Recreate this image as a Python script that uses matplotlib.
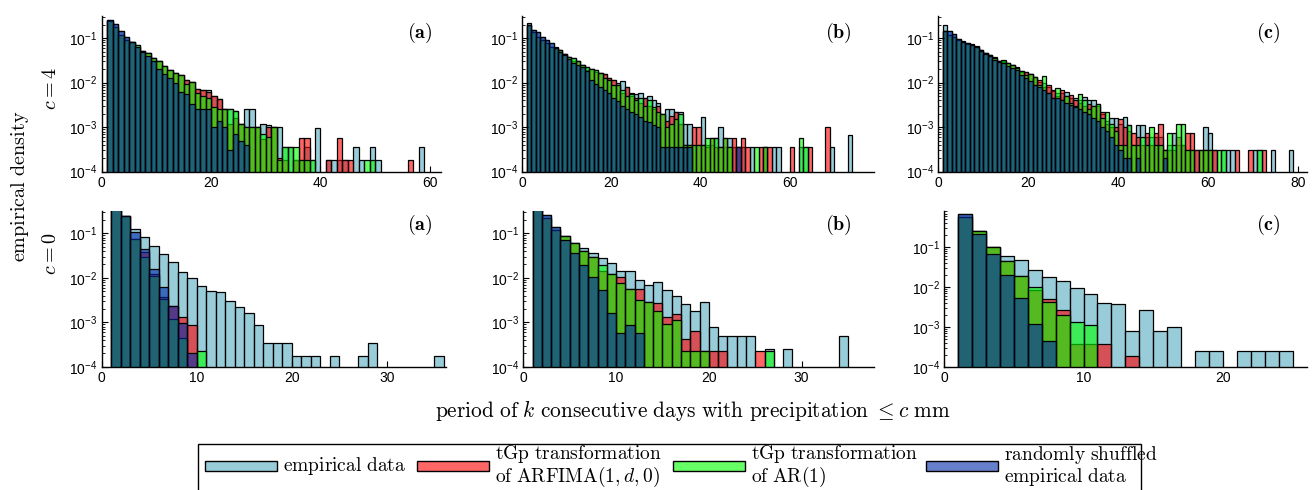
import numpy as np
import matplotlib
matplotlib.use("Agg")
import matplotlib.pyplot as plt
from matplotlib.patches import Rectangle
from matplotlib.ticker import LogLocator, NullFormatter, FixedLocator

plt.rcParams['font.family'] = 'sans-serif'
plt.rcParams['font.sans-serif'] = ['Liberation Sans', 'DejaVu Sans']
plt.rcParams['mathtext.fontset'] = 'cm'

# empirical density per run length k = 1, 2, ... (0 = no run of that length)
# c = 4 mm, station (a)
emp_c4a = [.25, .204, .148, .105, .083, .070, .051, .046, .035, .030,
           .024, .0194, .0169, .0148, .0115, .0104, .0074, .0068, .0070, .0050,
           .0042, .0026, .0025, .0023, .0012, .0025, .0025, .0010, .0012, .0011,
           .0010, .0010, .00036, .00036, .00018, .00018, .00036, .00018, .00098, 0,
           .00018, .00018, .00018, .00018, 0, .00036, .00018, 0, .00036, .00018,
           0, 0, 0, 0, 0, 0, 0, .00036]
arf_c4a = [.24, .178, .12, .091, .083, .064, .051, .046, .035, .030,
           .024, .0194, .0169, .0148, .0115, .0104, .0074, .0068, .0062, .0050,
           .0042, .0026, .0012, .0016, .0012, .0010, .0010, .0010, .00055, .0010,
           .0010, .0002, .00018, 0, .00018, .00057, .00057, 0, 0, 0,
           .00018, 0, .00057, .00018, .00018, 0, 0, 0, 0, 0,
           0, 0, 0, 0, 0, .00018]
ar1_c4a = [.24, .178, .12, .091, .083, .070, .051, .046, .035, .030,
           .024, .0194, .0169, .0148, .0093, .0104, .0060, .0050, .0045, .0028,
           .0026, .0026, .0025, .0023, .0012, .0010, .0010, .0010, .0007, .0006,
           .0010, .00018, .00036, .00036, .00036, .00018, .00018, .00018, 0, 0,
           0, 0, 0, 0, 0, 0, 0, .00018, .00018]
shuf_c4a = [.25, .204, .148, .105, .081, .064, .049, .040, .030, .020,
            .016, .0126, .0100, .0063, .0056, .0033, .0026, .0026, .0026, .0010,
            .0014, .0010, .0003, .0007, .0005, .0004]

# c = 4 mm, station (b)
emp_c4b = [.225, .155, .135, .109, .092, .078, .063, .053, .044, .037,
           .035, .030, .025, .022, .020, .019, .0163, .016, .0125, .0112,
           .0100, .0107, .0080, .0060, .0055, .0060, .0045, .0050, .0040, .0035,
           .0020, .0025, .0025, .0022, .0022, .0012, .0012, .0004, .0004, .0017,
           .0004, .0004, .00058, .0010, .00035, .00058, .00035, .00035, .00035, 0,
           .00035, 0, 0, .00035, 0, .00035, .00035, 0, 0, 0,
           0, .00035, .00035, 0, 0, 0, 0, 0, .00035, 0,
           0, 0, .00067]
arf_c4b = [.20, .135, .109, .092, .078, .063, .060, .053, .044, .037,
           .030, .030, .025, .019, .020, .017, .0163, .016, .0125, .0112,
           .0090, .0060, .0080, .0050, .0045, .0035, .0045, .0030, .0025, .0030,
           .0020, .0014, .0018, .0022, .0012, .0004, .0004, .0010, .0010, .0004,
           .00035, .00058, .00035, .00035, .00058, .00035, .00058, .00035, .00058, .00035,
           0, 0, .00035, .00035, .00035, 0, 0, 0, 0, .00035,
           0, 0, 0, .00035, 0, 0, 0, .0010]
ar1_c4b = [.20, .135, .109, .092, .078, .063, .060, .053, .044, .037,
           .035, .030, .025, .022, .020, .019, .0163, .0125, .0112, .0090,
           .0090, .0070, .0050, .0055, .0040, .0045, .0030, .0040, .0028, .0022,
           .0020, .0010, .0012, .0015, .0020, .0004, .0004, .0004, .0004, .0004,
           .00058, .00058, .00058, .00035, .00058, .00035, 0, 0, 0, 0,
           0, .00035, 0, .00035, 0, 0, 0, 0, 0, 0,
           0, .00058, .00035]
shuf_c4b = [.20, .155, .135, .109, .092, .078, .060, .050, .041, .034,
            .028, .025, .022, .018, .0115, .0095, .0080, .0068, .0058, .0046,
            .0038, .0030, .0026, .0022, .0020, .0017, .0014, .0013, .0011, .0010,
            .00035, .00035, .00035, .00035, .00035, .00035, .00035, 0, 0, 0,
            0, 0, 0, 0, 0, 0, 0, .00035]

# c = 4 mm, station (c)
emp_c4c = [.20, .148, .125, .095, .085, .079, .073, .066, .055, .047,
           .042, .037, .031, .030, .027, .025, .021, .0186, .0177, .0158,
           .0137, .0105, .0100, .0080, .0065, .0060, .0060, .0063, .0045, .0046,
           .0040, .0048, .0041, .0041, .0033, .0020, .0014, .0016, .0016, .0012,
           .0017, .0011, .0004, .0011, .0011, .0006, .0006, .0006, .0006, .0003,
           .0004, .00075, .0004, .0004, .0003, .0003, .0003, 0, .0010, .00075,
           .0003, 0, .0003, .0003, .0003, 0, 0, 0, 0, .0003,
           .0003, 0, 0, .0003, 0, 0, 0, .0003]
arf_c4c = [.148, .12, .105, .090, .080, .075, .070, .064, .054, .046,
           .041, .035, .030, .029, .027, .025, .023, .0170, .0177, .0158,
           .0137, .0115, .0080, .0089, .0070, .0050, .0069, .0050, .0053, .0040,
           .0035, .0030, .0033, .0030, .0030, .0022, .0012, .0010, .0010, .0015,
           .0010, .0008, .00075, .0006, .0004, .00075, .0004, .00075, .0012, .0003,
           .0003, .0003, .0006, .0004, .00075, .00075, .0003, .0003, .0003, .0003,
           .0003, 0, 0, 0, 0, .0003, 0, 0, .0003, 0,
           0, .0003]
ar1_c4c = [.148, .12, .105, .090, .080, .075, .070, .064, .054, .046,
           .041, .035, .030, .032, .027, .025, .021, .0186, .0150, .0158,
           .0137, .0090, .0140, .0060, .0045, .0075, .0040, .0050, .0035, .0030,
           .0056, .0040, .0025, .0030, .0033, .0016, .0022, .0012, .0008, .0004,
           .0004, .0011, .0004, .0004, .0006, .0004, .0010, .0004, .0004, .0003,
           .00075, .0004, .0012, .0012, .0003, .0003, 0, .0003, .0003, .0003,
           0, .0003, .0003, 0, 0, 0, 0, 0, 0, 0,
           .0003]
shuf_c4c = [.148, .148, .125, .095, .082, .076, .070, .063, .052, .044,
            .039, .033, .029, .027, .024, .021, .019, .0150, .0130, .0110,
            .0090, .0080, .0070, .0060, .0045, .0045, .0040, .0035, .0032, .0028,
            .0025, .0022, .0020, .0016, .0014, .0010, .0008, .0006, .0004, .0003,
            .0002, .0002, 0, .0002, 0, 0, 0, 0, 0, .0002]

# c = 0 mm, station (a)
emp_c0a = [.55, .25, .124, .085, .053, .035, .0224, .0138, .010, .0065,
           .0051, .0049, .0030, .0022, .00158, .00087, .00034, .00034, .00034, .00017,
           .00017, .00017, 0, .00017, 0, 0, .00017, .00034, 0, 0,
           0, 0, 0, 0, .00017]
arf_c0a = [.55, .25, .074, .038, .0125, .0038, .0023, .00134, .00087]
ar1_c0a = [.55, .25, .074, .030, .011, .0033, .00117, .00044, 0, .00022]
shuf_c0a = [.55, .25, .105, .044, .0159, .0061, .0023, .00095, .0002]

# c = 0 mm, station (b)
emp_c0b = [.5, .26, .14, .089, .060, .046, .0355, .0275, .022, .0145,
           .0145, .0089, .0069, .0082, .0052, .0039, .0026, .0018, .0028, .00077,
           .00049, .00049, .00049, .00049, 0, .00025, 0, .00025, 0, 0,
           0, 0, 0, .00049]
arf_c0b = [.5, .22, .12, .089, .060, .041, .029, .0145, .0123, .0102,
           .0057, .0057, .0028, .0027, .00134, .00155, .00043, .00065, .00022, .00022,
           .00022, 0, 0, 0, .00022]
ar1_c0b = [.5, .22, .12, .089, .060, .041, .029, .019, .0123, .0078,
           .0057, .0032, .0028, .0018, .00091, .0011, .00022, .00022, .00022, 0,
           0, 0, 0, 0, 0, .00022]
shuf_c0b = [.5, .26, .14, .073, .037, .0194, .0106, .0052, .00165, .00058,
            .00087, .00058]

# c = 0 mm, station (c)
emp_c0c = [.68, .25, .10, .061, .048, .027, .0178, .0139, .0094, .0066,
           .0040, .0038, .00077, .0026, .00077, .0010, 0, .00025, .00025, 0,
           .00025, .00025, .00025, .00025]
arf_c0c = [.56, .25, .10, .046, .0185, .0083, .0050, .0027, .00036, .00036,
           .00038, 0, .00019]
ar1_c0c = [.56, .25, .10, .046, .0185, .010, .0041, .0020, .00131, .00112]
shuf_c0c = [.68, .21, .067, .0204, .0053, .0012, .00044]

# face colours (drawn at 60 % opacity) and legend labels
colours = [(85/255, 170/255, 192/255), (1.0, 0.0, 0.0),
           (0.0, 1.0, 0.0), (0.0, 43/255, 170/255)]
labels = [r'$\mathrm{empirical\ data}$',
          '$\\mathrm{tGp\\ transformation}$\n$\\mathrm{of\\ ARFIMA}(1,d,0)$',
          '$\\mathrm{tGp\\ transformation}$\n$\\mathrm{of\\ AR}(1)$',
          '$\\mathrm{randomly\\ shuffled}$\n$\\mathrm{empirical\\ data}$']
ALPHA = 0.6

W, H = 1313, 490
fig = plt.figure(figsize=(W / 100, H / 100), dpi=100)


def fx(x):
    return x / W


def fy(y):
    return 1 - y / H


# panel boxes in pixels: left, top, right, bottom; x limit, y top, x ticks,
# panel tag and where the tag sits
panels = [
    ((101.7, 15.7, 440.8, 171.7), 62, 0.32, [0, 20, 40, 60], '(a)', (420, 33),
     [emp_c4a, arf_c4a, ar1_c4a, shuf_c4a]),
    ((522.3, 15.7, 874.0, 171.7), 78.9, 0.32, [0, 20, 40, 60], '(b)', (838, 33),
     [emp_c4b, arf_c4b, ar1_c4b, shuf_c4b]),
    ((938.3, 15.7, 1306.7, 171.7), 82, 0.32, [0, 20, 40, 60, 80], '(c)', (1268, 33),
     [emp_c4c, arf_c4c, ar1_c4c, shuf_c4c]),
    ((101.7, 211.0, 445.6, 366.7), 36.2, 0.32, [0, 10, 20, 30], '(a)', (420, 225),
     [emp_c0a, arf_c0a, ar1_c0a, shuf_c0a]),
    ((523.3, 211.0, 874.0, 366.7), 37.8, 0.32, [0, 10, 20, 30], '(b)', (838, 225),
     [emp_c0b, arf_c0b, ar1_c0b, shuf_c0b]),
    ((944.0, 211.0, 1306.7, 366.7), 26.0, 0.81, [0, 10, 20], '(c)', (1268, 225),
     [emp_c0c, arf_c0c, ar1_c0c, shuf_c0c]),
]

for (l, t, r, b), xmax, ytop, xt, tag, (tx, ty), series in panels:
    ax = fig.add_axes([fx(l), fy(b), fx(r) - fx(l), fy(t) - fy(b)])
    ax.set_yscale('log')
    for vals, col in zip(series, colours):
        v = np.asarray(vals, dtype=float)
        k = np.arange(1, len(v) + 1)
        m = v > 0
        ax.bar(k[m], v[m], width=1, align='edge', bottom=1e-6,
               facecolor=(*col, ALPHA), edgecolor='black', linewidth=0.9)
    ax.set_xlim(0, xmax)
    ax.set_ylim(1e-4, ytop)
    ax.xaxis.set_major_locator(FixedLocator(xt))
    ax.set_xticklabels([str(v) for v in xt], fontsize=10)
    ax.set_yticks([1e-4, 1e-3, 1e-2, 1e-1])
    ax.set_yticklabels([r'$10^{-4}$', r'$10^{-3}$', r'$10^{-2}$', r'$10^{-1}$'],
                       fontsize=10, math_fontfamily='custom')
    ax.yaxis.set_minor_locator(LogLocator(base=10, subs=np.arange(2, 10), numticks=20))
    ax.yaxis.set_minor_formatter(NullFormatter())
    for side in ('top', 'right'):
        ax.spines[side].set_visible(False)
    for side in ('left', 'bottom'):
        ax.spines[side].set_linewidth(1.0)
    ax.tick_params(which='major', direction='in', length=4, width=0.8, pad=3)
    ax.tick_params(which='minor', direction='in', length=2, width=0.6)
    fig.text(fx(tx), fy(ty), r'$\mathbf{' + tag + '}$',
             ha='center', va='center', fontsize=14.5)

# row and axis labels
fig.text(fx(50), fy(89), r'$c = 4$', rotation=90, ha='center', va='center', fontsize=14.5)
fig.text(fx(50), fy(254), r'$c = 0$', rotation=90, ha='center', va='center', fontsize=14.5)
fig.text(fx(20), fy(186), r'$\mathrm{empirical\ density}$', rotation=90,
         ha='center', va='center', fontsize=14.5)
fig.text(fx(693), fy(410),
         r'$\mathrm{period\ of\ }k\mathrm{\ consecutive\ days\ with\ precipitation}\ \leq c\ \mathrm{mm}$',
         ha='center', va='center', fontsize=15.4)

# legend box running off the bottom edge
fig.patches.append(Rectangle((fx(198), fy(500)), fx(1141) - fx(198), fy(444) - fy(500),
                             transform=fig.transFigure, facecolor='white',
                             edgecolor='black', linewidth=1.0))
patch_x = [205, 417, 673, 926]
for x0, col, lab in zip(patch_x, colours, labels):
    face = tuple(ALPHA * c + (1 - ALPHA) for c in col)
    fig.patches.append(Rectangle((fx(x0), fy(471)), fx(72), fy(461) - fy(471),
                                 transform=fig.transFigure, facecolor=face,
                                 edgecolor='black', linewidth=1.0))
    fig.text(fx(x0 + 78), fy(466), lab, ha='left', va='center', fontsize=14,
             linespacing=1.0)

fig.savefig('out.png', dpi=100)
